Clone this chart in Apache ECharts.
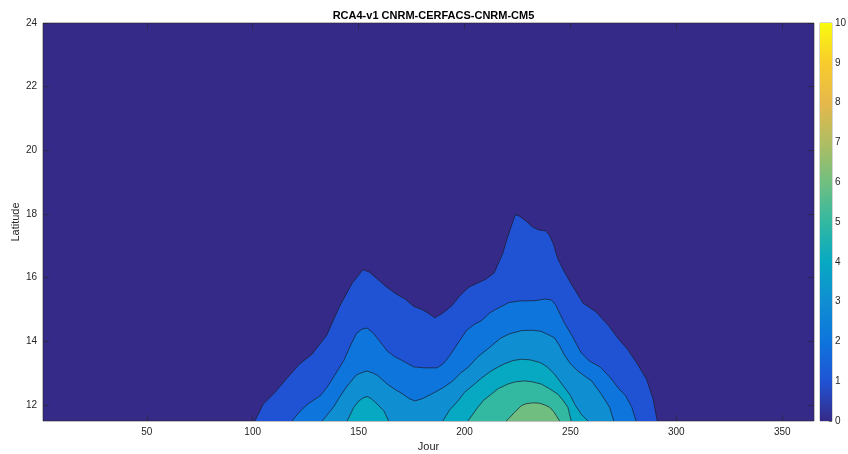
<!DOCTYPE html>
<html>
<head>
<meta charset="utf-8">
<script src="https://cdn.jsdelivr.net/npm/echarts@6/dist/echarts.min.js"></script>
<style>
html,body{margin:0;padding:0;background:#fff;}
#chart{width:848px;height:454px;}
</style>
</head>
<body>
<div id="chart"></div>
<script>
// ---- data: contour lines (day of year, latitude) for each rainfall level ----
const title = 'RCA4-v1 CNRM-CERFACS-CNRM-CM5';
const xTicks = [50, 100, 150, 200, 250, 300, 350];
const yTicks = [12, 14, 16, 18, 20, 22, 24];
const cbTicks = [0, 1, 2, 3, 4, 5, 6, 7, 8, 9, 10];

const lvl1Day = [101, 105, 110, 116, 122, 128, 135, 141, 147, 152, 155, 159, 163, 168, 172, 176, 180, 183, 186, 190, 194, 198, 202, 206, 210, 214, 218, 220, 222, 224, 226, 229, 232, 235, 238, 240, 242, 244, 247, 250, 256, 262, 268, 273, 277, 282, 286, 289, 291];
const lvl1Lat = [11.5, 12.03, 12.36, 12.83, 13.28, 13.6, 14.2, 15.1, 15.83, 16.25, 16.18, 15.95, 15.72, 15.48, 15.33, 15.1, 15.0, 14.88, 14.74, 14.9, 15.12, 15.45, 15.7, 15.83, 15.95, 16.15, 16.75, 17.2, 17.6, 17.98, 17.93, 17.78, 17.6, 17.5, 17.48, 17.35, 17.05, 16.6, 16.2, 15.85, 15.2, 14.93, 14.5, 14.05, 13.75, 13.25, 12.8, 12.2, 11.5];

const lvl2Day = [118.6, 122.5, 126, 132, 135, 138, 143, 146, 149, 151.5, 154, 157, 160, 163.5, 167, 170, 176, 181, 187, 190, 193, 197, 201, 205, 208, 212, 216, 221, 226, 233, 238, 241, 243, 247, 251, 255, 259, 264, 269, 273, 276, 279, 281];
const lvl2Lat = [11.5, 11.82, 12.03, 12.3, 12.55, 12.86, 13.4, 13.85, 14.25, 14.38, 14.42, 14.25, 14.0, 13.7, 13.52, 13.42, 13.2, 13.17, 13.17, 13.3, 13.55, 13.95, 14.35, 14.55, 14.65, 14.9, 15.05, 15.22, 15.27, 15.28, 15.33, 15.3, 15.15, 14.6, 14.15, 13.65, 13.38, 13.2, 12.85, 12.5, 12.3, 11.93, 11.5];

const lvl3Day = [132.8, 138.3, 141, 144.6, 149, 152, 154, 157, 159, 163.5, 167, 171, 174, 176.6, 180, 184, 190, 194.5, 198, 202, 206, 212, 217, 221, 227, 232, 236, 240, 242.5, 245, 247, 250, 253.5, 257, 260, 264.6, 268.5, 270.5];
const lvl3Lat = [11.5, 11.95, 12.25, 12.6, 12.95, 13.03, 13.07, 13.0, 12.93, 12.66, 12.5, 12.34, 12.2, 12.13, 12.2, 12.33, 12.55, 12.76, 13.0, 13.2, 13.5, 13.82, 14.1, 14.23, 14.34, 14.35, 14.32, 14.2, 14.11, 13.85, 13.59, 13.3, 13.07, 12.9, 12.76, 12.34, 11.93, 11.5];

const lvl4aDay = [144.6, 147.7, 150, 152, 154, 156, 158.8, 161.9, 164.2];
const lvl4aLat = [11.5, 11.93, 12.12, 12.22, 12.27, 12.2, 12.03, 11.82, 11.5];
const lvl4bDay = [189.8, 193, 196.9, 200, 204.7, 208, 212.6, 216, 219, 223, 227, 231, 236, 239, 242.5, 245, 247.2, 250, 252, 255, 258.3];
const lvl4bLat = [11.5, 11.85, 12.13, 12.4, 12.66, 12.85, 13.07, 13.2, 13.3, 13.4, 13.44, 13.42, 13.33, 13.2, 12.97, 12.75, 12.55, 12.3, 12.03, 11.72, 11.5];

const lvl5Day = [201.6, 206.3, 209, 212.6, 216, 220.5, 224, 228.4, 232, 236.2, 240, 244.1, 246.5, 248.8, 250.4];
const lvl5Lat = [11.5, 11.93, 12.15, 12.34, 12.52, 12.66, 12.73, 12.76, 12.73, 12.66, 12.52, 12.34, 12.15, 11.93, 11.5];

const lvl6Day = [219.7, 221.5, 223.6, 226.8, 229, 232, 235.4, 238, 240.2, 242, 243.3, 244.9];
const lvl6Lat = [11.5, 11.62, 11.77, 11.98, 12.04, 12.07, 12.06, 12.0, 11.93, 11.8, 11.67, 11.5];

// ---- styling ----
const parula = ['#352A87', '#2053D4', '#0D75DC', '#108ED2', '#07A9C2', '#33B8A1', '#71BF80', '#B0BD62', '#E6B84A', '#F8CC2C', '#F9FB0E'];
const FONT = 'Liberation Sans, Arial, sans-serif';
const TXT = '#262626';

function zip(a, b) { return a.map((v, i) => [v, b[i]]); }

function level(name, days, lats, color, z) {
  return {
    name: name, type: 'line', xAxisIndex: 0, yAxisIndex: 0,
    data: zip(days, lats), showSymbol: false, smooth: false, z: z,
    silent: true, animation: false,
    lineStyle: { color: '#1b1b2a', width: 0.7 },
    areaStyle: { color: color, opacity: 1, origin: 'start' }
  };
}

const chart = echarts.init(document.getElementById('chart'), null, { renderer: 'canvas' });

const gradStops = parula.map((c, i) => ({ offset: 1 - i / (parula.length - 1), color: c }));

const option = {
  animation: false,
  backgroundColor: '#ffffff',
  title: {
    text: title, left: 428.5, textAlign: 'center', top: 5,
    textStyle: { fontFamily: FONT, fontSize: 11, fontWeight: 'bold', color: '#000' }
  },
  grid: [
    { left: 43, top: 23, width: 771, height: 398, outerBoundsMode: 'none', containLabel: false, show: true, backgroundColor: '#352A87', borderColor: '#262626', borderWidth: 0.6 },
    { left: 820, top: 23, width: 12, height: 398, outerBoundsMode: 'none', containLabel: false, show: true, borderColor: '#9a9a9a', borderWidth: 0.8, backgroundColor: 'transparent' }
  ],
  xAxis: [
    {
      type: 'value', gridIndex: 0, min: 1, max: 365, position: 'bottom',
      name: 'Jour', nameLocation: 'middle', nameGap: 19,
      nameTextStyle: { fontFamily: FONT, fontSize: 11, color: TXT },
      axisLine: { show: false },
      axisTick: { show: true, inside: true, length: 6, customValues: xTicks, lineStyle: { color: '#262626', width: 0.6 } },
      axisLabel: { show: true, customValues: xTicks, fontFamily: FONT, fontSize: 10, color: TXT, margin: 6 },
      splitLine: { show: false }
    },
    {
      type: 'value', gridIndex: 0, min: 1, max: 365, position: 'top',
      axisLine: { show: false },
      axisTick: { show: true, inside: true, length: 6, customValues: xTicks, lineStyle: { color: '#262626', width: 0.6 } },
      axisLabel: { show: false }, splitLine: { show: false }
    },
    {
      type: 'category', gridIndex: 1, data: ['c'], show: false
    }
  ],
  yAxis: [
    {
      type: 'value', gridIndex: 0, min: 11.5, max: 24, position: 'left',
      name: 'Latitude', nameLocation: 'middle', nameGap: 22, nameRotate: 90, nameMoveOverlap: false,
      nameTextStyle: { fontFamily: FONT, fontSize: 11, color: TXT },
      axisLine: { show: false },
      axisTick: { show: true, inside: true, length: 6, customValues: yTicks, lineStyle: { color: '#262626', width: 0.6 } },
      axisLabel: { show: true, customValues: yTicks, fontFamily: FONT, fontSize: 10, color: TXT, margin: 6 },
      splitLine: { show: false }
    },
    {
      type: 'value', gridIndex: 0, min: 11.5, max: 24, position: 'right',
      axisLine: { show: false },
      axisTick: { show: true, inside: true, length: 6, customValues: yTicks, lineStyle: { color: '#262626', width: 0.6 } },
      axisLabel: { show: false }, splitLine: { show: false }
    },
    {
      type: 'value', gridIndex: 1, min: 0, max: 10, interval: 1, position: 'right',
      axisLine: { show: false },
      axisTick: { show: true, inside: true, length: 3, lineStyle: { color: '#262626', width: 0.6 } },
      axisLabel: { show: true, fontFamily: FONT, fontSize: 10, color: TXT, margin: 3 },
      splitLine: { show: false }
    }
  ],
  series: [
    level('1', lvl1Day, lvl1Lat, parula[1], 2),
    level('2', lvl2Day, lvl2Lat, parula[2], 3),
    level('3', lvl3Day, lvl3Lat, parula[3], 4),
    level('4a', lvl4aDay, lvl4aLat, parula[4], 5),
    level('4b', lvl4bDay, lvl4bLat, parula[4], 5),
    level('5', lvl5Day, lvl5Lat, parula[5], 6),
    level('6', lvl6Day, lvl6Lat, parula[6], 7),
    {
      type: 'bar', xAxisIndex: 2, yAxisIndex: 2, data: [cbTicks[cbTicks.length - 1]],
      barWidth: '100%', silent: true, z: 1,
      itemStyle: { color: { type: 'linear', x: 0, y: 0, x2: 0, y2: 1, colorStops: gradStops } }
    }
  ]
};
chart.setOption(option);
</script>
</body>
</html>
